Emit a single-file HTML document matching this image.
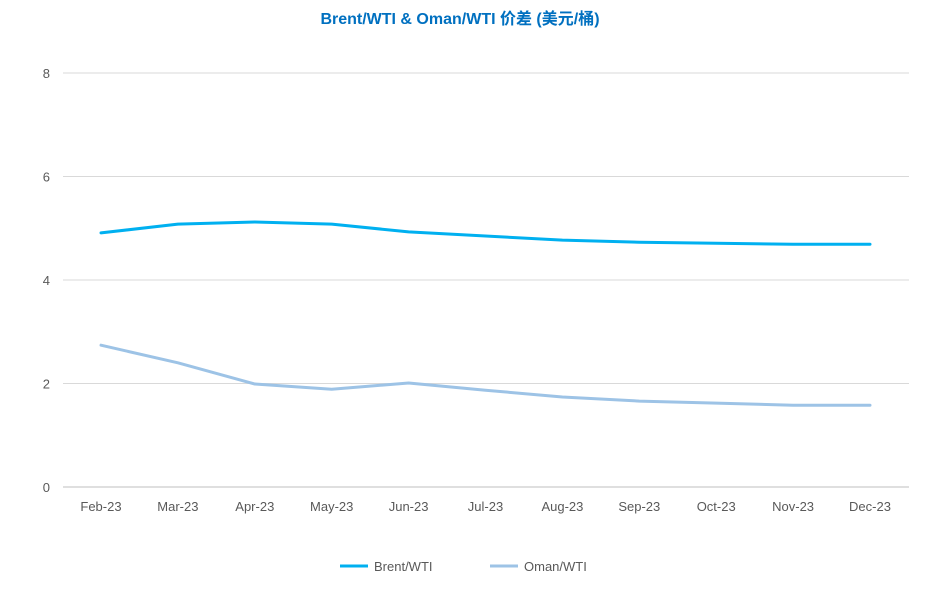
<!DOCTYPE html>
<html><head><meta charset="utf-8">
<style>
body{margin:0;background:#fff;}
svg{display:block;font-family:"Liberation Sans","Noto Sans CJK SC",sans-serif;}
</style></head>
<body>
<svg id="chart" width="937" height="601">
<text x="460" y="24" text-anchor="middle" font-size="16" font-weight="bold" fill="#0070C0">Brent/WTI &amp; Oman/WTI 价差 (美元/桶)</text>
<g id="grid"></g><g id="xaxis"></g><g id="series"></g>
<g>
<line x1="340" y1="566" x2="368" y2="566" stroke="#00B0F0" stroke-width="3"/>
<text x="374" y="571" font-size="13" fill="#595959">Brent/WTI</text>
<line x1="490" y1="566" x2="518" y2="566" stroke="#9DC3E6" stroke-width="3"/>
<text x="524" y="571" font-size="13" fill="#595959">Oman/WTI</text>
</g>
</svg>
<script>
const categories=["Feb-23","Mar-23","Apr-23","May-23","Jun-23","Jul-23","Aug-23","Sep-23","Oct-23","Nov-23","Dec-23"];
const brent=[4.91,5.08,5.12,5.08,4.93,4.85,4.77,4.73,4.71,4.69,4.69];
const oman=[2.74,2.40,1.99,1.89,2.01,1.87,1.74,1.66,1.62,1.58,1.58];
const yTicks=[0,2,4,6,8];
const NS="http://www.w3.org/2000/svg";
const x0=101,x1=870,yBase=487,yTop=73,yMax=8;
const xs=i=>x0+i*(x1-x0)/(categories.length-1);
const ys=v=>yBase-v*(yBase-yTop)/yMax;
function mk(t,a,p){const e=document.createElementNS(NS,t);for(const k in a)e.setAttribute(k,a[k]);p.appendChild(e);return e;}
const grid=document.getElementById('grid');
yTicks.forEach(v=>{
 const l=mk('line',{x1:63,x2:909,y1:ys(v),y2:ys(v),stroke:v===0?'#BFBFBF':'#D9D9D9','stroke-width':1},grid);
 
 
 const t=mk('text',{x:50,y:ys(v)+5,'text-anchor':'end','font-size':13,fill:'#595959'},grid);
 t.textContent=v;
 
 
});
const xa=document.getElementById('xaxis');
categories.forEach((c,i)=>{
 const t=mk('text',{x:xs(i),y:511,'text-anchor':'middle','font-size':13,fill:'#595959'},xa);
 t.textContent=c;
 
 
});
const sg=document.getElementById('series');
[[brent,'#00B0F0','brent-line'],[oman,'#9DC3E6','oman-line']].forEach(([d,c,n])=>{
 const p=mk('polyline',{points:d.map((v,i)=>xs(i)+','+ys(v)).join(' '),fill:'none',stroke:c,'stroke-width':3,'stroke-linejoin':'round','stroke-linecap':'round'},sg);
 
 
});
</script>
</body></html>
